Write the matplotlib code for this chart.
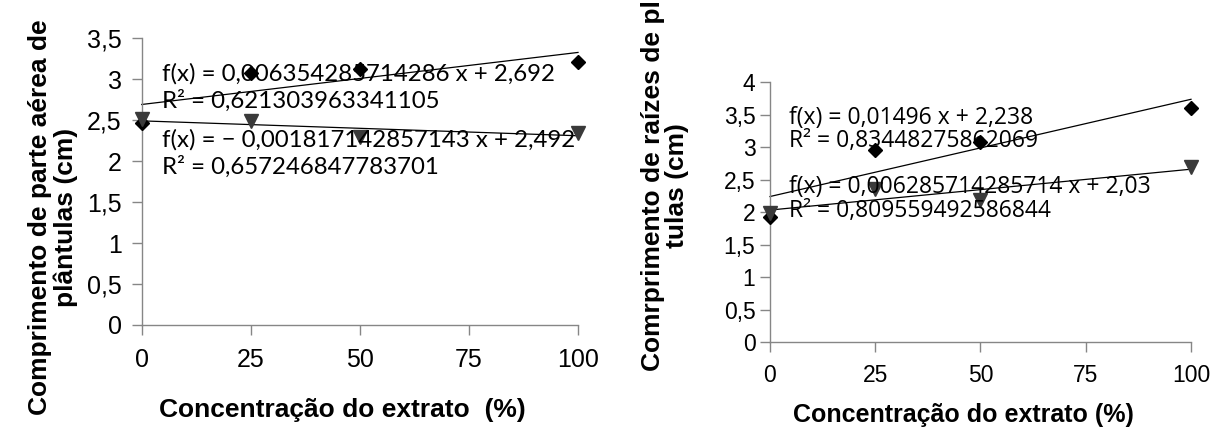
import matplotlib
matplotlib.use("Agg")
import matplotlib.pyplot as plt
import numpy as np

# ---- data ----
conc = [0, 25, 50, 100]
xticks = [0, 25, 50, 75, 100]

# left panel: shoot length
aerea_diamond = [2.46, 3.08, 3.13, 3.21]
aerea_triangle = [2.51, 2.49, 2.30, 2.35]
aerea_fit_diamond = (0.006354285714286, 2.692)
aerea_fit_triangle = (-0.001817142857143, 2.492)
aerea_eq = ["f(x) = 0,006354285714286 x + 2,692", "R² = 0,621303963341105",
            "f(x) = − 0,001817142857143 x + 2,492", "R² = 0,657246847783701"]
aerea_yticks = [0, 0.5, 1, 1.5, 2, 2.5, 3, 3.5]
aerea_yticklabels = ["0", "0,5", "1", "1,5", "2", "2,5", "3", "3,5"]

# right panel: root length
raiz_diamond = [1.93, 2.96, 3.08, 3.60]
raiz_triangle = [1.98, 2.36, 2.19, 2.69]
raiz_fit_diamond = (0.01496, 2.238)
raiz_fit_triangle = (0.006285714285714, 2.03)
raiz_eq = ["f(x) = 0,01496 x + 2,238", "R² = 0,83448275862069",
           "f(x) = 0,006285714285714 x + 2,03", "R² = 0,809559492586844"]
raiz_yticks = [0, 0.5, 1, 1.5, 2, 2.5, 3, 3.5, 4]
raiz_yticklabels = ["0", "0,5", "1", "1,5", "2", "2,5", "3", "3,5", "4"]

W, H = 1223, 428
fig = plt.figure(figsize=(W / 100, H / 100), dpi=100)

GRAY = "#868686"
TRI = "#3a3a3a"

def ax_rect(x0, y0, x1, y1):
    return [x0 / W, 1 - y1 / H, (x1 - x0) / W, (y1 - y0) / H]

def style(ax, ylim, yt, ytl, xfs, yfs, xpad, ypad):
    ax.set_xlim(0, 100)
    ax.set_ylim(*ylim)
    for s in ["top", "right"]:
        ax.spines[s].set_visible(False)
    for s in ["left", "bottom"]:
        ax.spines[s].set_color(GRAY)
        ax.spines[s].set_linewidth(1.0)
        ax.spines[s].set_clip_on(False)
    ax.set_xticks(xticks)
    ax.set_xticklabels([str(v) for v in xticks], fontsize=xfs, family="Liberation Sans")
    ax.set_yticks(yt)
    ax.set_yticklabels(ytl, fontsize=yfs, family="Liberation Sans")
    ax.tick_params(axis="x", direction="out", length=7.5, width=1, color=GRAY, pad=xpad)
    ax.tick_params(axis="y", direction="out", length=7.5, width=1, color=GRAY, pad=ypad)
    ax.patch.set_alpha(0)

def draw(ax, d, t, fd, ft):
    xl = np.array([0, 100])
    ax.plot(xl, fd[0] * xl + fd[1], color="black", lw=0.9, clip_on=False, zorder=2)
    ax.plot(xl, ft[0] * xl + ft[1], color="black", lw=0.9, clip_on=False, zorder=2)
    ax.plot(conc, d, ls="none", marker="D", ms=6.8, color="black", clip_on=False, zorder=3)
    ax.plot(conc, t, ls="none", marker="v", ms=9.5, color=TRI, clip_on=False, zorder=3)

# ---- left ----
ax1 = fig.add_axes(ax_rect(141.7, 38.3, 578, 325))
style(ax1, (0, 3.5), aerea_yticks, aerea_yticklabels, 18, 18, 9, 7)
draw(ax1, aerea_diamond, aerea_triangle, aerea_fit_diamond, aerea_fit_triangle)
for txt, yy in zip(aerea_eq, [3.07, 2.74, 2.26, 1.93]):
    ax1.text(4.6, yy, txt, fontsize=17.3, family="Lato", va="center", ha="left", zorder=4)
fig.text(53 / W, 1 - 217 / H, "Comprimento de parte aérea de\nplântulas (cm)", rotation=90,
         ha="center", va="center", fontsize=19, fontweight="bold", family="Liberation Sans",
         multialignment="center", linespacing=1.12)
fig.text(342 / W, 1 - 410 / H, "Concentração do extrato  (%)", ha="center", va="center",
         fontsize=19, fontweight="bold", family="Liberation Sans")

# ---- right ----
ax2 = fig.add_axes(ax_rect(770, 82, 1191, 342))
style(ax2, (0, 4), raiz_yticks, raiz_yticklabels, 16.5, 16.5, 8, 3)
draw(ax2, raiz_diamond, raiz_triangle, raiz_fit_diamond, raiz_fit_triangle)
for txt, yy in zip(raiz_eq, [3.45, 3.09, 2.38, 2.02]):
    ax2.text(4.5, yy, txt, fontsize=16.5, family="Open Sans", va="center", ha="left", zorder=4)
fig.text(665 / W, 1 - 186 / H, "Comrprimento de raízes de pl\ntulas (cm)", rotation=90,
         ha="center", va="center", fontsize=19, fontweight="bold", family="Liberation Sans",
         multialignment="center", linespacing=1.02)
fig.text(963 / W, 1 - 415 / H, "Concentração do extrato (%)", ha="center", va="center",
         fontsize=18, fontweight="bold", family="Liberation Sans")

fig.savefig("out.png", dpi=100)
